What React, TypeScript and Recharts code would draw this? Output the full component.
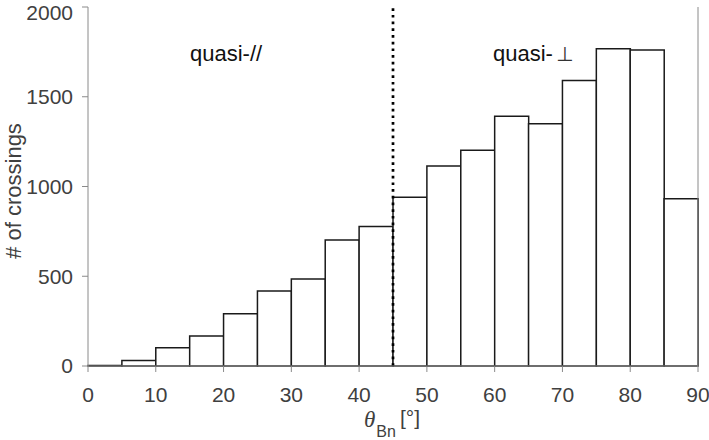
import { BarChart, Bar, XAxis, YAxis, ReferenceLine } from 'recharts';

// histogram of shock normal angle, 5 degree bins
const BIN_START = [0, 5, 10, 15, 20, 25, 30, 35, 40, 45, 50, 55, 60, 65, 70, 75, 80, 85];
const COUNTS = [3, 30, 102, 167, 291, 418, 485, 702, 777, 940, 1114, 1202, 1391, 1350, 1590, 1768, 1760, 932];
const X_TICKS = [0, 10, 20, 30, 40, 50, 60, 70, 80, 90];
const Y_TICKS = [0, 500, 1000, 1500, 2000];
const SPLIT_ANGLE = 45;

const data = BIN_START.map((lo, i) => ({ bin: `${lo}-${lo + 5}`, lo, count: COUNTS[i] }));

const FONT = '"Liberation Sans", Arial, Helvetica, sans-serif';
const AXIS = '#8a8a8a';
const TEXT = '#404040';
const tickStyle = { fill: TEXT, fontSize: 21, fontFamily: FONT };
const blank = () => '';

export default function App() {
  return (
    <div style={{ position: 'absolute', left: 0, top: 0, width: 709, height: 440, background: '#fff' }}>
      <BarChart
        width={709}
        height={440}
        data={data}
        margin={{ top: 7, right: 0, bottom: 0, left: 0 }}
        barCategoryGap={0}
        barGap={0}
      >
        <XAxis xAxisId="cat" dataKey="bin" hide height={0} />
        <XAxis
          xAxisId="num"
          type="number"
          dataKey="lo"
          domain={[0, 90]}
          ticks={X_TICKS}
          allowDataOverflow
          height={74}
          tickSize={6}
          tickMargin={15}
          stroke={AXIS}
          tick={tickStyle}
        />
        <XAxis
          xAxisId="top"
          orientation="top"
          type="number"
          dataKey="lo"
          domain={[0, 90]}
          ticks={X_TICKS}
          allowDataOverflow
          height={0}
          tickSize={6}
          stroke={AXIS}
          tickFormatter={blank}
        />
        <YAxis
          yAxisId="left"
          domain={[0, 2000]}
          ticks={Y_TICKS}
          width={88}
          tickSize={6}
          tickMargin={9}
          stroke={AXIS}
          tick={tickStyle}
        />
        <YAxis
          yAxisId="right"
          orientation="right"
          domain={[0, 2000]}
          ticks={Y_TICKS}
          width={11}
          tickSize={6}
          stroke={AXIS}
          tickFormatter={blank}
        />
        <Bar
          xAxisId="cat"
          yAxisId="left"
          dataKey="count"
          fill="#ffffff"
          stroke="#1a1a1a"
          strokeWidth={1.5}
          isAnimationActive={false}
        />
        <ReferenceLine
          xAxisId="num"
          yAxisId="left"
          x={SPLIT_ANGLE}
          stroke="#000"
          strokeWidth={2.7}
          strokeDasharray="2.7 4"
        />
      </BarChart>

      {/* labels and annotations */}
      <svg
        width={709}
        height={440}
        style={{ position: 'absolute', left: 0, top: 0, pointerEvents: 'none' }}
        fontFamily={FONT}
      >
        <text x={190} y={61} fontSize={22} fill="#111">quasi-//</text>
        <text x={493} y={61} fontSize={22} fill="#111">
          quasi-<tspan dx={3} fill="#333" fontFamily='"DejaVu Sans", sans-serif' fontSize={20}>⊥</tspan>
        </text>
        <text
          transform="rotate(-90)"
          x={-191}
          y={21}
          textAnchor="middle"
          fontSize={22}
          fill={TEXT}
        >
          # of crossings
        </text>
        <text x={392} y={427} textAnchor="middle" fontSize={21} fill={TEXT}>
          <tspan fontFamily='"Liberation Serif", "DejaVu Serif", serif' fontStyle="italic" fontSize={23}>θ</tspan>
          <tspan fontSize={16} dy={10} dx={1}>Bn</tspan>
          <tspan dy={-12} dx={4}>[°]</tspan>
        </text>
      </svg>
    </div>
  );
}
